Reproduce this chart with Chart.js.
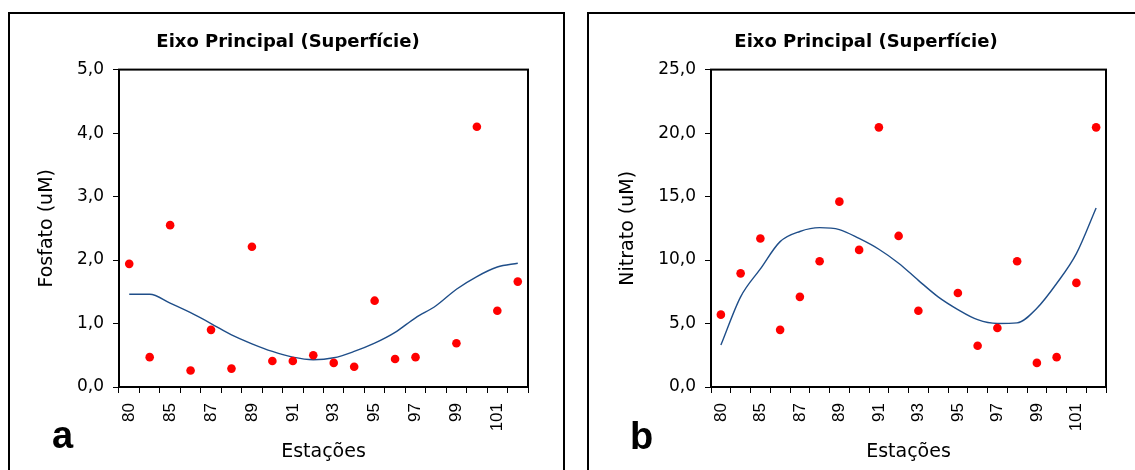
<!DOCTYPE html>
<html>
<head>
<meta charset="utf-8">
<script src="https://cdn.jsdelivr.net/npm/chart.js@4"></script>
<style>
  body { margin: 0; width: 1135px; height: 470px; overflow: hidden; background: #fff; position: relative; }
  .frame { position: absolute; border: 2px solid #000; box-sizing: border-box; }
  .box { position: absolute; }
  .tag { position: absolute; font: bold 38px "Liberation Sans", Arial, sans-serif; line-height: 38px; color: #000; }
</style>
</head>
<body>
<div class="frame" style="left:8px;top:12px;width:557px;height:480px"></div>
<div class="frame" style="left:587px;top:12px;width:560px;height:480px"></div>
<div class="box" style="left:10px;top:14px;width:553px;height:456px"><canvas id="chartA"></canvas></div>
<div class="box" style="left:589px;top:14px;width:546px;height:456px"><canvas id="chartB"></canvas></div>
<div class="tag" style="left:52px;top:416px">a</div>
<div class="tag" style="left:630px;top:417px">b</div>
<script>
// stations along the main axis (only every other one is labelled)
const stations = ['80', '83', '85', '86', '87', '88', '89', '90', '91', '92',
                  '93', '94', '95', '96', '97', '98', '99', '100', '101', '102'];
const shownTicks = ['80', '85', '87', '89', '91', '93', '95', '97', '99', '101'];

// fosfato (uM), surface
const fosfato = [1.94, 0.47, 2.55, 0.26, 0.90, 0.29, 2.21, 0.41, 0.41, 0.50,
                 0.38, 0.32, 1.36, 0.44, 0.47, null, 0.69, 4.10, 1.20, 1.66];
const fosfatoTrend = [1.46, 1.46, 1.32, 1.17, 1.00, 0.82, 0.68, 0.56, 0.47, 0.43,
                      0.46, 0.56, 0.69, 0.86, 1.09, 1.28, 1.54, 1.74, 1.89, 1.95];

// nitrato (uM), surface
const nitrato = [5.7, 8.95, 11.7, 4.5, 7.1, 9.9, 14.6, 10.8, 20.45, 11.9,
                 6.0, null, 7.4, 3.25, 4.65, 9.9, 1.9, 2.35, 8.2, 20.45];
const nitratoTrend = [3.3, 7.1, 9.3, 11.45, 12.25, 12.55, 12.4, 11.7, 10.85, 9.75,
                      8.4, 7.1, 6.1, 5.3, 5.0, 5.05, 6.2, 8.15, 10.5, 14.1];

const plotFrame = {
  id: 'plotFrame',
  afterDatasetsDraw(chart) {
    const a = chart.chartArea;
    const ctx = chart.ctx;
    ctx.save();
    ctx.strokeStyle = '#000';
    ctx.lineWidth = 2;
    ctx.strokeRect(a.left, a.top, a.right - a.left, a.bottom - a.top);
    ctx.restore();
  }
};

// pad = layout padding (left/right), yWidth = width of the y axis box,
// yTitlePad = shift of the y title from the left edge of that box
function makeChart(id, values, trend, yMax, step, yTitle, pad, yWidth, yTitlePad) {
  new Chart(document.getElementById(id), {
    type: 'line',
    data: {
      labels: stations,
      datasets: [{
        data: values,
        showLine: false,
        pointRadius: 4.3,
        pointBorderWidth: 0,
        pointBackgroundColor: '#ff0000',
        pointBorderColor: '#ff0000'
      }, {
        data: trend,
        borderColor: '#1f4e89',
        borderWidth: 1.4,
        pointRadius: 0,
        cubicInterpolationMode: 'monotone',
        fill: false
      }]
    },
    options: {
      responsive: true,
      maintainAspectRatio: false,
      animation: false,
      layout: { padding: { left: pad.left, right: pad.right, top: 0, bottom: 0 } },
      plugins: {
        legend: { display: false },
        tooltip: { enabled: false },
        title: {
          display: true,
          text: 'Eixo Principal (Superfície)',
          color: '#000',
          font: { family: 'DejaVu Sans', size: 18, weight: 'bold' },
          padding: { top: 18, bottom: 16 }
        }
      },
      scales: {
        x: {
          offset: true,
          grid: { offset: true, drawOnChartArea: false, color: '#000', tickLength: 6 },
          border: { display: false },
          ticks: {
            autoSkip: false,
            minRotation: 90,
            maxRotation: 90,
            padding: 10,
            color: '#000',
            font: { family: 'Liberation Sans', size: 17 },
            callback: function (v) {
              const lbl = this.getLabelForValue(v);
              return shownTicks.includes(lbl) ? lbl : '';
            }
          },
          title: {
            display: true,
            text: 'Estações',
            color: '#000',
            font: { family: 'DejaVu Sans', size: 19 },
            padding: { top: 0, bottom: 7 }
          },
          afterFit: s => { s.height = 83; }
        },
        y: {
          min: 0,
          max: yMax,
          grid: { drawOnChartArea: false, color: '#000', tickLength: 6 },
          border: { display: false },
          ticks: {
            stepSize: step,
            padding: 9,
            color: '#000',
            font: { family: 'DejaVu Sans', size: 17 },
            callback: v => v.toFixed(1).replace('.', ',')
          },
          title: {
            display: true,
            text: yTitle,
            color: '#000',
            font: { family: 'DejaVu Sans', size: 19 },
            padding: { top: yTitlePad, bottom: 0 }
          },
          afterFit: s => { s.width = yWidth; }
        }
      }
    },
    plugins: [plotFrame]
  });
}

makeChart('chartA', fosfato, fosfatoTrend, 5, 1, 'Fosfato (uM)', { left: 38, right: 35 }, 71, -12.4);
makeChart('chartB', nitrato, nitratoTrend, 25, 5, 'Nitrato (uM)', { left: 37, right: 29 }, 85, -9.4);
</script>
</body>
</html>
